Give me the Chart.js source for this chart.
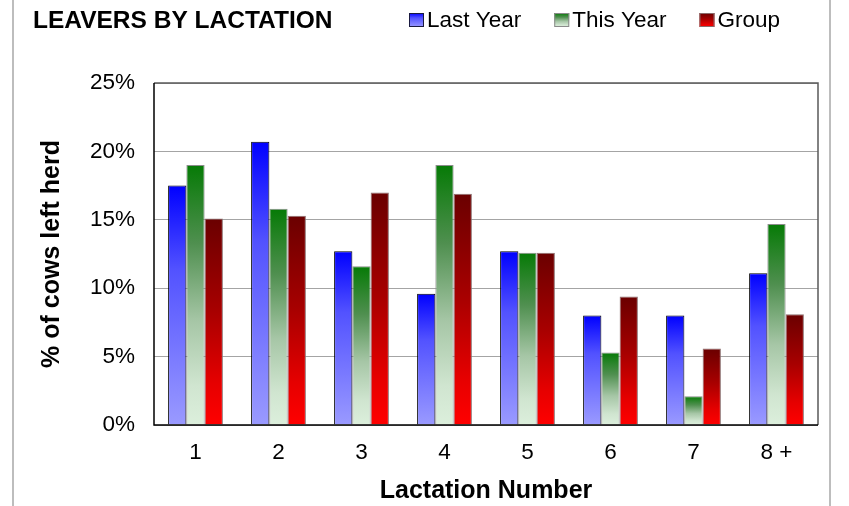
<!DOCTYPE html>
<html>
<head>
<meta charset="utf-8">
<script src="https://cdn.jsdelivr.net/npm/chart.js@4.4.0/dist/chart.umd.min.js"></script>
<style>
  html, body { margin: 0; padding: 0; background: #ffffff; }
  #wrap { width: 849px; height: 506px; position: relative; }
</style>
</head>
<body>
<div id="wrap"><canvas id="c" width="849" height="506"></canvas></div>
<script>
// ---- data ----
const chartTitle = 'LEAVERS BY LACTATION';
const xAxisTitle = 'Lactation Number';
const yAxisTitle = '% of cows left herd';
const categories = ['1', '2', '3', '4', '5', '6', '7', '8 +'];
const seriesNames = ['Last Year', 'This Year', 'Group'];
const lastYear = [17.5, 20.7, 12.7, 9.6, 12.7, 8.0, 8.0, 11.1];
const thisYear = [19.0, 15.8, 11.6, 19.0, 12.6, 5.3, 2.1, 14.7];
const groupVals = [15.1, 15.3, 17.0, 16.9, 12.6, 9.4, 5.6, 8.1];
const yTickValues = [0, 5, 10, 15, 20, 25];

// ---- styles ----
const FONT = '"Liberation Sans", Arial, Helvetica, sans-serif';
const blueStops = [[0, '#0000ff'], [0.35, '#5252ff'], [1, '#9a9aff']];
const greenStops = [[0, '#067a06'], [0.3, '#4f8f4f'], [0.6, '#a6c6a6'], [0.85, '#d0e5d0'], [1, '#dcefdc']];
const redStops = [[0, '#6a0000'], [0.45, '#a80000'], [0.8, '#e60000'], [1, '#ff0000']];

function barGradient(stops) {
  return function (context) {
    const chart = context.chart;
    if (!chart.chartArea || context.type !== 'data') return stops[stops.length - 1][1];
    const ys = chart.scales.y;
    const top = ys.getPixelForValue(context.raw);
    const bot = ys.getPixelForValue(0);
    if (!isFinite(top) || !isFinite(bot) || bot - top < 1) return stops[0][1];
    const g = chart.ctx.createLinearGradient(0, top, 0, bot);
    stops.forEach(s => g.addColorStop(s[0], s[1]));
    return g;
  };
}

function legendSwatch(ctx, x, y, w, h, stops, border) {
  const g = ctx.createLinearGradient(0, y, 0, y + h);
  stops.forEach(s => g.addColorStop(s[0], s[1]));
  ctx.fillStyle = g;
  ctx.fillRect(x, y, w, h);
  ctx.strokeStyle = border;
  ctx.lineWidth = 1;
  ctx.strokeRect(x + 0.5, y + 0.5, w - 1, h - 1);
}

const decorPlugin = {
  id: 'decor',
  beforeDraw(chart) {
    const ctx = chart.ctx;
    ctx.save();
    ctx.fillStyle = '#ffffff';
    ctx.fillRect(0, 0, chart.width, chart.height);
    ctx.strokeStyle = '#bdbdbd';
    ctx.lineWidth = 2;
    ctx.beginPath();
    ctx.moveTo(13, 0); ctx.lineTo(13, chart.height);
    ctx.moveTo(830, 0); ctx.lineTo(830, chart.height);
    ctx.stroke();
    ctx.restore();
  },
  afterDraw(chart) {
    const ctx = chart.ctx;
    const a = chart.chartArea;
    ctx.save();
    // plot frame
    ctx.lineWidth = 1.5;
    ctx.strokeStyle = '#5a5a5a';
    ctx.beginPath();
    ctx.moveTo(a.left, a.top); ctx.lineTo(a.right, a.top); ctx.lineTo(a.right, a.bottom);
    ctx.stroke();
    ctx.strokeStyle = '#000000';
    ctx.beginPath();
    ctx.moveTo(a.left, a.top); ctx.lineTo(a.left, a.bottom); ctx.lineTo(a.right, a.bottom);
    ctx.stroke();
    // title
    ctx.fillStyle = '#000000';
    ctx.textBaseline = 'middle';
    ctx.textAlign = 'left';
    ctx.font = 'bold 24.5px ' + FONT;
    ctx.fillText(chartTitle, 33, 21);
    // legend
    ctx.font = '22.5px ' + FONT;
    const sw = [blueStops, greenStops, redStops];
    const bd = ['#1a1a40', '#8a8a8a', '#8a6a6a'];
    let x = 409;
    seriesNames.forEach((name, i) => {
      legendSwatch(ctx, x, 13, 15, 14, sw[i], bd[i]);
      ctx.fillStyle = '#000000';
      ctx.fillText(name, x + 18, 21);
      x += 18 + ctx.measureText(name).width + 33;
    });
    ctx.restore();
  }
};

new Chart(document.getElementById('c'), {
  type: 'bar',
  data: {
    labels: categories,
    datasets: [
      { label: seriesNames[0], data: lastYear, backgroundColor: barGradient(blueStops), borderColor: '#000000', borderWidth: 1 },
      { label: seriesNames[1], data: thisYear, backgroundColor: barGradient(greenStops), borderColor: '#8c8c8c', borderWidth: 1 },
      { label: seriesNames[2], data: groupVals, backgroundColor: barGradient(redStops), borderColor: '#8c7070', borderWidth: 1 }
    ]
  },
  options: {
    responsive: false,
    animation: false,
    categoryPercentage: 0.66,
    barPercentage: 1.0,
    layout: { padding: { top: 83, right: 31, bottom: 0, left: 0 } },
    plugins: {
      legend: { display: false },
      title: { display: false },
      tooltip: { enabled: false }
    },
    scales: {
      x: {
        afterFit(s) { s.height = 81; },
        grid: { display: false, drawTicks: false },
        border: { display: false },
        ticks: { padding: 14, color: '#000000', font: { family: FONT, size: 22.5 } },
        title: { display: true, text: xAxisTitle, color: '#000000', font: { family: FONT, size: 25, weight: 'bold' }, padding: { top: 0, bottom: 0 } }
      },
      y: {
        min: 0,
        max: 25,
        afterFit(s) { s.width = 154; },
        afterBuildTicks(s) { s.ticks = yTickValues.map(v => ({ value: v })); },
        grid: { color: '#a4a4a4', lineWidth: 1, drawTicks: false },
        border: { display: false },
        ticks: { padding: 19, color: '#000000', font: { family: FONT, size: 22.5 }, callback: v => v + '%' },
        title: { display: true, text: yAxisTitle, color: '#000000', font: { family: FONT, size: 25, weight: 'bold' }, padding: { top: 37, bottom: 0 } }
      }
    }
  },
  plugins: [decorPlugin]
});
</script>
</body>
</html>
